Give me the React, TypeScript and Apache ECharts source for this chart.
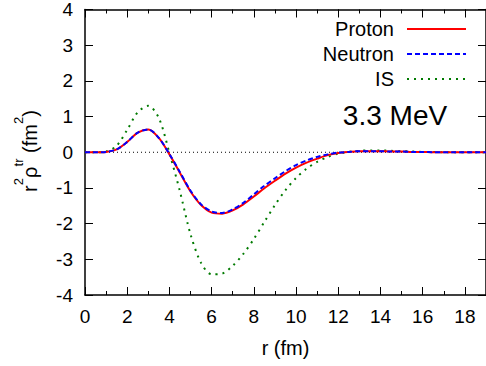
import React, { useEffect, useRef } from "react";
import * as echarts from "echarts";

const R = [0,0.5,1,1.5,2,2.5,3,3.5,4,4.5,5,5.5,6,6.5,7,7.5,8,8.5,9,9.5,10,10.5,11,11.5,12,12.5,13,13.5,14,14.5,15,15.5,16,16.5,17,17.5,18,18.5,19];
const PROTON = [0,0,0.01,0.08,0.29,0.55,0.64,0.4,-0.06,-0.58,-1.1,-1.48,-1.69,-1.72,-1.63,-1.46,-1.24,-1.01,-0.8,-0.6,-0.43,-0.29,-0.18,-0.08,-0.02,0.01,0.03,0.03,0.03,0.02,0.02,0.01,0.01,0,0,0,0,0,0];
const NEUTRON = [0,0,0.01,0.08,0.29,0.55,0.64,0.4,-0.05,-0.56,-1.08,-1.46,-1.66,-1.7,-1.6,-1.42,-1.18,-0.94,-0.73,-0.53,-0.36,-0.23,-0.13,-0.06,-0.01,0.01,0.03,0.03,0.03,0.02,0.02,0.01,0.01,0,0,0,0,0,0];
const IS = [0,0,0.02,0.18,0.63,1.12,1.3,0.96,-0.02,-1.1,-2.3,-3.1,-3.42,-3.4,-3.18,-2.85,-2.43,-1.95,-1.48,-1.06,-0.72,-0.46,-0.27,-0.13,-0.04,0.01,0.04,0.05,0.05,0.04,0.03,0.02,0.01,0.01,0,0,0,0,0];
const ZERO_LINE = [[0, 0], [19, 0]];
const SERIES_NAMES = ["Proton", "Neutron", "IS"];
const ENERGY_LABEL = "3.3 MeV";
// y-axis title pieces: [text, isSuperscript]
const Y_TITLE: [string, boolean][] = [["r", false], ["2", true], ["ρ", false], ["tr", true], [" (fm", false], ["2", true], [")", false]];

const FONT = "'Liberation Sans', Arial, Helvetica, sans-serif";
const RED = "#ff0000";
const BLUE = "#0000ff";
const GREEN = "#007a00";

// approximate Arial advance widths (em)
const W: Record<string, number> = { r: 0.333, "2": 0.556, "ρ": 0.58, t: 0.278, " ": 0.278, "(": 0.333, ")": 0.333, f: 0.278, m: 0.833 };
const textWidth = (s: string, size: number) => s.split("").reduce((a, c) => a + (W[c] ?? 0.556), 0) * size;

export default function App() {
  const ref = useRef<HTMLDivElement>(null);
  useEffect(() => {
    if (!ref.current) return;
    const chart = echarts.init(ref.current, null, { renderer: "svg" });
    const pairs = (v: number[]) => R.map((r, i) => [r, v[i]]);
    const gridL = 85, gridT = 7, gridW = 405, gridH = 288;
    const axisLine = { show: true, onZero: false, lineStyle: { color: "#000", width: 1.5 } };
    const noLine = { show: false, onZero: false };
    const legendY = [29, 54, 79];
    const legendStyles = [
      { color: RED, dash: null as any },
      { color: BLUE, dash: [5, 3] },
      { color: GREEN, dash: [2, 5] },
    ];
    const graphics: any[] = [];
    SERIES_NAMES.forEach((n, i) => {
      graphics.push({
        type: "text",
        x: 394,
        y: legendY[i],
        style: { text: n, font: `20px ${FONT}`, fill: "#000", textAlign: "right", textVerticalAlign: "middle" },
      });
      graphics.push({
        type: "line",
        shape: { x1: 407, y1: legendY[i], x2: 466, y2: legendY[i] },
        style: { stroke: legendStyles[i].color, lineWidth: 2, lineDash: legendStyles[i].dash },
      });
    });
    graphics.push({
      type: "text",
      x: 395,
      y: 115,
      style: { text: ENERGY_LABEL, font: `28px ${FONT}`, fill: "#000", textAlign: "center", textVerticalAlign: "middle" },
    });

    // y-axis title built from pieces in a rotated group
    const baseSize = 20, supSize = 13;
    const total = Y_TITLE.reduce((a, [s, sup]) => a + textWidth(s, sup ? supSize : baseSize), 0);
    let cx = -total / 2;
    const titleChildren: any[] = Y_TITLE.map(([s, sup]) => {
      const size = sup ? supSize : baseSize;
      const el = {
        type: "text",
        x: cx,
        y: sup ? -12 : 0,
        style: { text: s, font: `${size}px ${FONT}`, fill: "#000", textAlign: "left", textVerticalAlign: "middle" },
      };
      cx += textWidth(s, size);
      return el;
    });
    graphics.push({ type: "group", x: 30, y: 151, rotation: Math.PI / 2, children: titleChildren });

    const xBase = { type: "value", min: 0, max: 19, gridIndex: 0 };
    chart.setOption({
      animation: false,
      backgroundColor: "#fff",
      grid: { left: gridL, top: gridT, width: gridW, height: gridH, containLabel: false },
      xAxis: [
        {
          ...xBase, position: "bottom", interval: 2,
          name: "r (fm)", nameLocation: "middle", nameGap: 43,
          nameTextStyle: { fontSize: 20, fontFamily: FONT, color: "#000" },
          axisLine, splitLine: { show: false },
          axisTick: { show: true, inside: true, length: 8, lineStyle: { color: "#000", width: 1 } },
          axisLabel: { fontSize: 19, fontFamily: FONT, color: "#000", margin: 12, showMaxLabel: false },
        },
        {
          ...xBase, position: "bottom", interval: 1,
          axisLine: noLine, splitLine: { show: false },
          axisTick: { show: true, inside: true, length: 4, lineStyle: { color: "#000", width: 1 } },
          axisLabel: { show: false },
        },
        {
          ...xBase, position: "top", interval: 2,
          axisLine, splitLine: { show: false },
          axisTick: { show: true, inside: true, length: 8, lineStyle: { color: "#000", width: 1 } },
          axisLabel: { show: false },
        },
        {
          ...xBase, position: "top", interval: 1,
          axisLine: noLine, splitLine: { show: false },
          axisTick: { show: true, inside: true, length: 4, lineStyle: { color: "#000", width: 1 } },
          axisLabel: { show: false },
        },
      ],
      yAxis: [
        {
          type: "value", min: -4, max: 4, interval: 1, position: "left",
          axisLine, splitLine: { show: false },
          axisTick: { show: true, inside: true, length: 8, lineStyle: { color: "#000", width: 1 } },
          axisLabel: { fontSize: 19, fontFamily: FONT, color: "#000", margin: 12 },
        },
        {
          type: "value", min: -4, max: 4, interval: 1, position: "right",
          axisLine, splitLine: { show: false },
          axisTick: { show: true, inside: true, length: 8, lineStyle: { color: "#000", width: 1 } },
          axisLabel: { show: false },
        },
      ],
      series: [
        {
          name: "zero", type: "line", data: ZERO_LINE, showSymbol: false, silent: true,
          xAxisIndex: 0, yAxisIndex: 0, z: 1,
          lineStyle: { color: "#000", width: 1, type: [1, 3] },
        },
        {
          name: SERIES_NAMES[0], type: "line", data: pairs(PROTON), smooth: 0.3, showSymbol: false,
          xAxisIndex: 0, yAxisIndex: 0,
          lineStyle: { color: RED, width: 2 }, itemStyle: { color: RED }, z: 3,
        },
        {
          name: SERIES_NAMES[1], type: "line", data: pairs(NEUTRON), smooth: 0.3, showSymbol: false,
          xAxisIndex: 0, yAxisIndex: 0,
          lineStyle: { color: BLUE, width: 2, type: [5, 3] }, itemStyle: { color: BLUE }, z: 4,
        },
        {
          name: SERIES_NAMES[2], type: "line", data: pairs(IS), smooth: 0.3, showSymbol: false,
          xAxisIndex: 0, yAxisIndex: 0,
          lineStyle: { color: GREEN, width: 2, type: [2, 5] }, itemStyle: { color: GREEN }, z: 2,
        },
      ],
      graphic: graphics,
    });
    return () => chart.dispose();
  }, []);
  return (
    <div
      ref={ref}
      style={{ position: "absolute", left: 0, top: 0, width: 486, height: 366, background: "#fff" }}
    />
  );
}
